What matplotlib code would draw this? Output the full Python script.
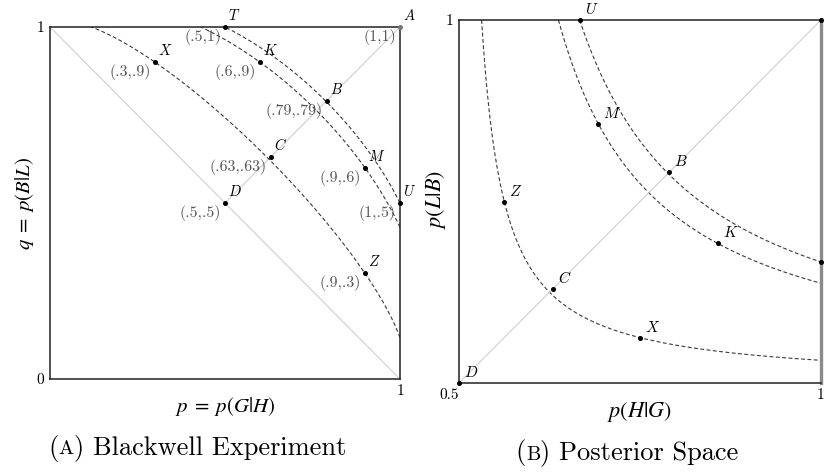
import numpy as np
import matplotlib
matplotlib.use("Agg")
import matplotlib.pyplot as plt
from matplotlib.offsetbox import TextArea, HPacker, AnnotationBbox

plt.rcParams['mathtext.fontset'] = 'cm'

# ---------------- data ----------------
point_names = ['T', 'A', 'X', 'K', 'B', 'C', 'M', 'D', 'U', 'Z']
p_vals = [0.5, 1.0, 0.3, 0.6, 0.79, 0.63, 0.9, 0.5, 1.0, 0.9]
q_vals = [1.0, 1.0, 0.9, 0.9, 0.79, 0.63, 0.6, 0.5, 0.5, 0.3]
coord_labels = ['(.5,1)', '(1,1)', '(.3,.9)', '(.6,.9)', '(.79,.79)',
                '(.63,.63)', '(.9,.6)', '(.5,.5)', '(1,.5)', '(.9,.3)']
# one point that defines each dashed iso-value curve
curve_through = ['X', 'K', 'T']
right_hidden_labels = ['A', 'T']

left_xticks, left_xticklabels = [1.0], ['1']
left_yticks, left_yticklabels = [0.0, 1.0], ['0', '1']
right_xticks, right_xticklabels = [0.5, 1.0], ['0.5', '1']
right_yticks, right_yticklabels = [1.0], ['1']

# ---------------- helpers ----------------
def to_post(p, q):
    p = np.asarray(p, float); q = np.asarray(q, float)
    return p / (p + 1 - q), q / (q + 1 - p)

def from_post(x, y):
    d = 1 - x - y
    return x * (1 - 2 * y) / d, y * (1 - 2 * x) / d

def level(p, q):
    x, y = to_post(p, q)
    return (x - 0.5) * (y - 0.5)

idx = {n: i for i, n in enumerate(point_names)}

W, H = 826, 472
fig = plt.figure(figsize=(W / 100, H / 100), dpi=100)

def ax_px(l, t, r, b):
    return fig.add_axes([l / W, 1 - b / H, (r - l) / W, (b - t) / H])

axL = ax_px(50, 27, 400, 379)
axR = ax_px(459, 20, 821, 383)

DASH = dict(color='#3a3a3a', lw=0.8, dashes=(3.5, 2.2))
GRAY = dict(color='#cfcfcf', lw=0.8)
SERIF = 'cmr10'

# ---------------- left panel ----------------
axL.set_xlim(0, 1); axL.set_ylim(0, 1)
axL.plot([0, 1], [1, 0], **GRAY)
axL.plot([p_vals[idx['D']], p_vals[idx['A']]],
         [q_vals[idx['D']], q_vals[idx['A']]], **GRAY)

for name in curve_through:
    c = float(level(p_vals[idx[name]], q_vals[idx[name]]))
    xs = np.linspace(0.5 + 2 * c, 1.0, 400)
    ys = 0.5 + c / (xs - 0.5)
    with np.errstate(divide='ignore', invalid='ignore'):
        pp, qq = from_post(xs, ys)
    ok = np.isfinite(pp) & np.isfinite(qq)
    axL.plot(pp[ok], qq[ok], **DASH)
    axR.plot(xs, ys, **DASH)

for i, n in enumerate(point_names):
    col = '#777777' if n == 'A' else 'black'
    axL.plot(p_vals[i], q_vals[i], 'o', ms=2.6, color=col, clip_on=False, zorder=5)
    axL.annotate(r'$%s$' % n, (p_vals[i], q_vals[i]), textcoords='offset pixels',
                 xytext=(3, 4), ha='left', va='bottom', fontsize=10.5,
                 annotation_clip=False)
    axL.annotate(coord_labels[i], (p_vals[i], q_vals[i]), textcoords='offset pixels',
                 xytext=(-4, -2), ha='right', va='top', fontsize=11.5,
                 family=SERIF, color='#555555', annotation_clip=False)

axL.set_xticks(left_xticks, left_xticklabels, family=SERIF, fontsize=11)
axL.set_yticks(left_yticks, left_yticklabels, family=SERIF, fontsize=11)
axL.tick_params(length=0, pad=4)
for s in axL.spines.values():
    s.set_linewidth(1.1); s.set_color('#222222')

# ---------------- right panel ----------------
axR.set_xlim(0.5, 1); axR.set_ylim(0.5, 1)
axR.plot([0.5, 1.0], [0.5, 1.0], **GRAY)

pa, qa = np.array(p_vals), np.array(q_vals)
with np.errstate(divide='ignore', invalid='ignore'):
    px, py = to_post(pa, qa)
px = np.where(pa + qa >= 2, 1.0, px)
py = np.where(pa + qa >= 2, 1.0, py)
for i, n in enumerate(point_names):
    axR.plot(px[i], py[i], 'o', ms=2.6, color='black', clip_on=False, zorder=5)
    if n in right_hidden_labels:
        continue
    axR.annotate(r'$%s$' % n, (px[i], py[i]), textcoords='offset pixels',
                 xytext=(5, 3), ha='left', va='bottom', fontsize=11,
                 annotation_clip=False)

axR.set_xticks(right_xticks, right_xticklabels, family=SERIF, fontsize=11)
axR.set_yticks(right_yticks, right_yticklabels, family=SERIF, fontsize=11)
axR.get_xticklabels()[0].set_ha('right')
axR.tick_params(length=0, pad=4)
for k, s in axR.spines.items():
    s.set_linewidth(1.1); s.set_color('#222222')
axR.spines['right'].set_color('#8a8a8a')
axR.spines['right'].set_linewidth(2.4)

# ---------------- axis labels ----------------
LAB = dict(ha='center', va='center', math_fontfamily='stix')
fig.text(25 / W, 1 - 203 / H, r'$q\;=\;p(B|L)$', rotation=90, fontsize=15, **LAB)
fig.text(225 / W, 1 - 407 / H, r'$p\;=\;p(G|H)$', fontsize=15, **LAB)
fig.text(436 / W, 1 - 200 / H, r'$p(L|B)$', rotation=90, fontsize=16, **LAB)
fig.text(640 / W, 1 - 412 / H, r'$p(H|G)$', fontsize=16, **LAB)

# ---------------- captions ----------------
def caption(letter, rest, cx, cy):
    big = dict(family=SERIF, fontsize=19, color='black')
    small = dict(family=SERIF, fontsize=14.5, color='black')
    box = HPacker(children=[TextArea('(', textprops=big),
                            TextArea(letter, textprops=small),
                            TextArea(') ' + rest, textprops=big)],
                  align='baseline', pad=0, sep=0)
    ab = AnnotationBbox(box, (cx, H - cy), xycoords='figure pixels',
                        frameon=False, box_alignment=(0.5, 0.5))
    fig.add_artist(ab)

caption('A', 'Blackwell Experiment', 197, 448)
caption('B', 'Posterior Space', 627, 453)

fig.savefig('out.png', dpi=100)
